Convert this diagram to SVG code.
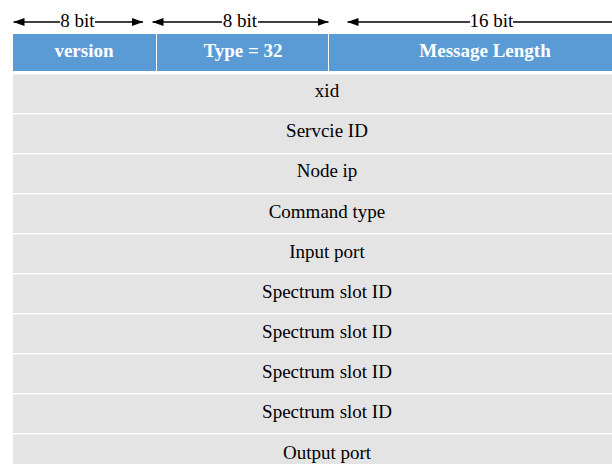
<svg xmlns="http://www.w3.org/2000/svg" width="612" height="464" viewBox="0 0 612 464">
<style>
.hdr{fill:#5b9bd5}
.row{fill:#e4e4e4}
.ht{font-family:"Liberation Serif","Times New Roman",serif;font-size:19px;font-weight:bold;fill:#fff;text-anchor:middle}
.rt{font-family:"Liberation Serif","Times New Roman",serif;font-size:19px;fill:#000;text-anchor:middle}
.lbl{font-family:"Liberation Serif","Times New Roman",serif;font-size:19px;fill:#000;text-anchor:middle}
.ln{stroke:#000;stroke-width:1.3;fill:none}
</style>
<defs>
<marker id="ah" viewBox="0 0 11 8" refX="11" refY="4" markerWidth="11" markerHeight="8" markerUnits="userSpaceOnUse" orient="auto-start-reverse">
<path d="M0,0 L11,4 L0,8 Z" fill="#000"/>
</marker>
</defs>
<rect x="0" y="0" width="612" height="464" fill="#fff"/>
<g id="connectors">
<line class="ln" x1="13.5" y1="22" x2="60" y2="22" marker-start="url(#ah)"/>
<line class="ln" x1="95" y1="22" x2="143" y2="22" marker-end="url(#ah)"/>
<line class="ln" x1="152.5" y1="22" x2="222" y2="22" marker-start="url(#ah)"/>
<line class="ln" x1="258" y1="22" x2="328.5" y2="22" marker-end="url(#ah)"/>
<line class="ln" x1="347.5" y1="22" x2="470" y2="22" marker-start="url(#ah)"/>
<line class="ln" x1="513" y1="22" x2="612" y2="22"/>
<text class="lbl" x="77.5" y="26.5">8 bit</text>
<text class="lbl" x="240" y="26.5">8 bit</text>
<text class="lbl" x="491.5" y="26.5">16 bit</text>
</g>
<g id="version"><rect class="hdr" x="13" y="34" width="143" height="37"/><text class="ht" x="84" y="57">version</text></g>
<g id="type"><rect class="hdr" x="157" y="34" width="171" height="37"/><text class="ht" x="243" y="57">Type = 32</text></g>
<g id="msglen"><rect class="hdr" x="329" y="34" width="283" height="37"/><text class="ht" x="485" y="57">Message Length</text></g>
<g id="xid"><rect class="row" x="13" y="74.5" width="599" height="38.5"/><text class="rt" x="327" y="97">xid</text></g>
<g id="serviceid"><rect class="row" x="13" y="114.5" width="599" height="38.5"/><text class="rt" x="327" y="137">Servcie ID</text></g>
<g id="nodeip"><rect class="row" x="13" y="154.5" width="599" height="38.5"/><text class="rt" x="327" y="177">Node ip</text></g>
<g id="cmdtype"><rect class="row" x="13" y="194.5" width="599" height="38.5"/><text class="rt" x="327" y="218">Command type</text></g>
<g id="inport"><rect class="row" x="13" y="234.5" width="599" height="38.5"/><text class="rt" x="327" y="258">Input port</text></g>
<g id="slot1"><rect class="row" x="13" y="274.5" width="599" height="38.5"/><text class="rt" x="327" y="298">Spectrum slot ID</text></g>
<g id="slot2"><rect class="row" x="13" y="314.5" width="599" height="38.5"/><text class="rt" x="327" y="338">Spectrum slot ID</text></g>
<g id="slot3"><rect class="row" x="13" y="354.5" width="599" height="38.5"/><text class="rt" x="327" y="378">Spectrum slot ID</text></g>
<g id="slot4"><rect class="row" x="13" y="394.5" width="599" height="38.5"/><text class="rt" x="327" y="418">Spectrum slot ID</text></g>
<g id="outport"><rect class="row" x="13" y="434.5" width="599" height="38.5"/><text class="rt" x="327" y="459">Output port</text></g>
</svg>
